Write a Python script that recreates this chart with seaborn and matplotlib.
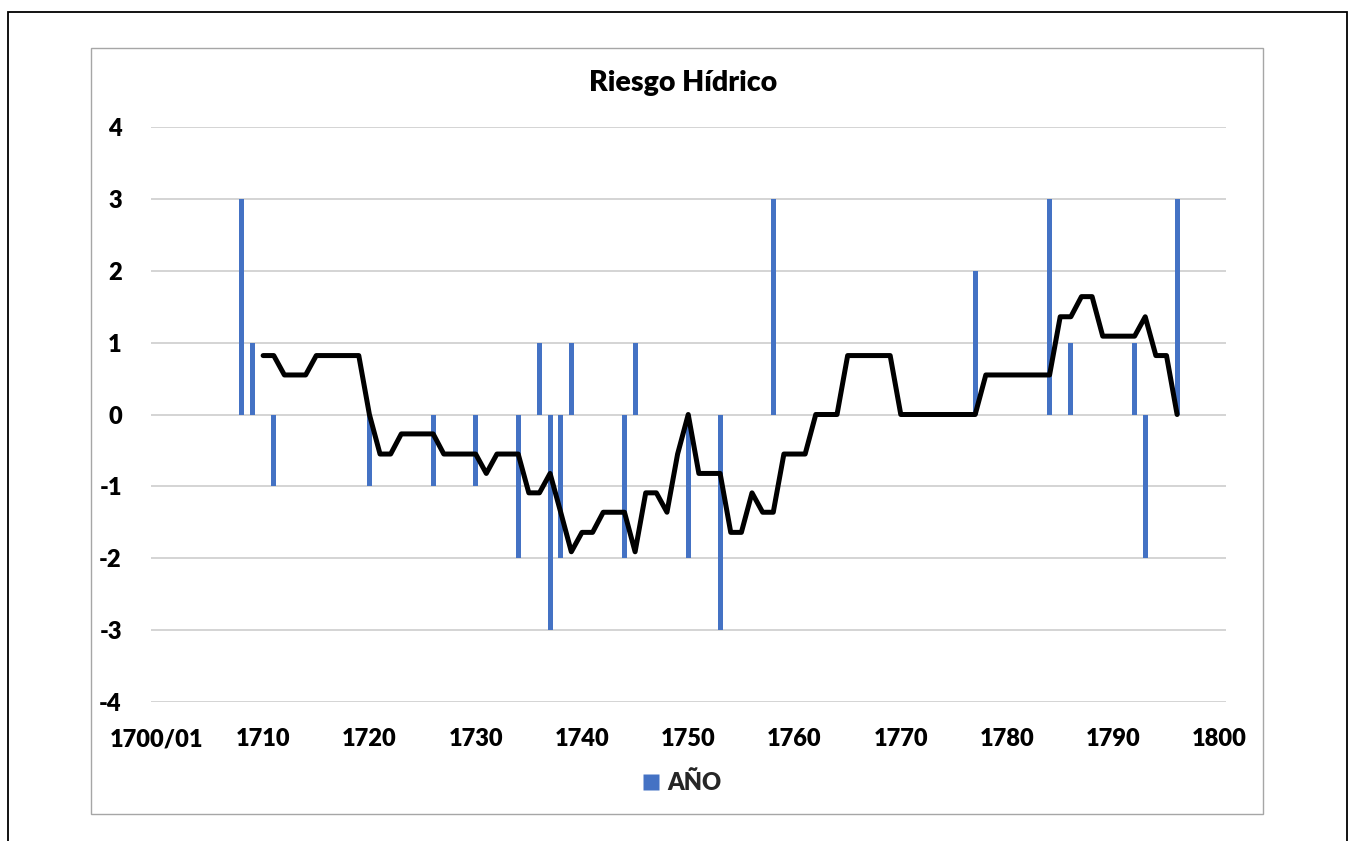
import matplotlib
matplotlib.use("Agg")
import matplotlib.pyplot as plt
from matplotlib.lines import Line2D
from matplotlib.patches import Rectangle
import numpy as np
import pandas as pd
import seaborn as sns

# yearly risk values (bars), only non-zero years
bar_years = [1708, 1709, 1711, 1720, 1726, 1730, 1734, 1736, 1737, 1738, 1739,
             1744, 1745, 1750, 1753, 1758, 1777, 1784, 1786, 1792, 1793, 1796]
bar_values = [3, 1, -1, -1, -1, -1, -2, 1, -3, -2, 1,
              -2, 1, -2, -3, 3, 2, 3, 1, 1, -2, 3]

# smoothed trend (black line), 1710-1796
line_years = list(range(1710, 1797))
line_values = [
    0.82, 0.82, 0.55, 0.55, 0.55, 0.82, 0.82, 0.82, 0.82, 0.82,        # 1710-1719
    0.0, -0.55, -0.55, -0.27, -0.27, -0.27, -0.27, -0.55, -0.55, -0.55,  # 1720-1729
    -0.55, -0.82, -0.55, -0.55, -0.55, -1.09, -1.09, -0.82, -1.36, -1.91,  # 1730-1739
    -1.64, -1.64, -1.36, -1.36, -1.36, -1.91, -1.09, -1.09, -1.36, -0.55,  # 1740-1749
    0.0, -0.82, -0.82, -0.82, -1.64, -1.64, -1.09, -1.36, -1.36, -0.55,  # 1750-1759
    -0.55, -0.55, 0.0, 0.0, 0.0, 0.82, 0.82, 0.82, 0.82, 0.82,          # 1760-1769
    0.0, 0.0, 0.0, 0.0, 0.0, 0.0, 0.0, 0.0, 0.55, 0.55,                 # 1770-1779
    0.55, 0.55, 0.55, 0.55, 0.55, 1.36, 1.36, 1.64, 1.64, 1.09,         # 1780-1789
    1.09, 1.09, 1.09, 1.36, 0.82, 0.82, 0.0,                            # 1790-1796
]

x_ticks = list(range(1700, 1801, 10))
x_labels = ["1700/01"] + [str(t) for t in x_ticks[1:]]
y_ticks = list(range(-4, 5))

BLUE = "#4472C4"
GRID = "#c9c9c9"

sns.set_theme(style="white")
plt.rcParams["font.family"] = ["Lato", "DejaVu Sans"]
plt.rcParams["axes.unicode_minus"] = False

W, H = 1348, 841
fig = plt.figure(figsize=(W / 100, H / 100), dpi=100)
ax = fig.add_axes([151 / W, 1 - 702 / H, (1226 - 151) / W, (702 - 127) / H])

bars = pd.DataFrame({"year": bar_years, "value": bar_values})
sns.barplot(data=bars, x="year", y="value", native_scale=True, width=0.47,
            color=BLUE, saturation=1, ax=ax, zorder=2)
for p in ax.patches:
    p.set_edgecolor("none")

trend = pd.DataFrame({"year": line_years, "value": line_values})
sns.lineplot(data=trend, x="year", y="value", color="black", linewidth=3.6,
             ax=ax, zorder=3)
for ln in ax.lines:
    ln.set_solid_capstyle("round")
    ln.set_solid_joinstyle("round")

ax.set_xlim(1699.45, 1800.6)
ax.set_ylim(-4, 4)
ax.set_xticks(x_ticks)
ax.set_xticklabels(x_labels)
ax.set_yticks(y_ticks)
ax.set_xlabel("")
ax.set_ylabel("")
for s in ax.spines.values():
    s.set_visible(False)
ax.yaxis.grid(True, color=GRID, linewidth=1.1, zorder=0)
ax.set_axisbelow(True)
ax.tick_params(axis="x", length=0, pad=19, labelsize=17)
ax.tick_params(axis="y", length=0, pad=21, labelsize=17)
for lab in ax.get_xticklabels() + ax.get_yticklabels():
    lab.set_fontweight("heavy")
    lab.set_color("black")

fig.text(683 / W, 1 - 83 / H, "Riesgo Hídrico", ha="center", va="center",
         fontsize=20.5, fontweight="heavy", color="black")

# legend: only the bar series, shown as a small square
square = Line2D([], [], marker="s", linestyle="none", markersize=11,
                markerfacecolor=BLUE, markeredgecolor="none", label="AÑO")
fig.legend(handles=[square], loc="center", bbox_to_anchor=(682 / W, 1 - 783 / H),
           frameon=False, prop={"weight": "heavy", "size": 17},
           handlelength=0.7, handletextpad=0.35, borderpad=0)

# chart-area frame and outer frame
fig.add_artist(Rectangle((91 / W, 1 - 814 / H), (1263 - 91) / W, (814 - 48) / H,
                         transform=fig.transFigure, fill=False,
                         edgecolor="#a6a6a6", linewidth=1))
fig.add_artist(Rectangle((8 / W, -0.1), (1346.5 - 8) / W, 1.1 - 11.5 / H,
                         transform=fig.transFigure, fill=False,
                         edgecolor="black", linewidth=1.3))

fig.savefig("out.png", dpi=100)
